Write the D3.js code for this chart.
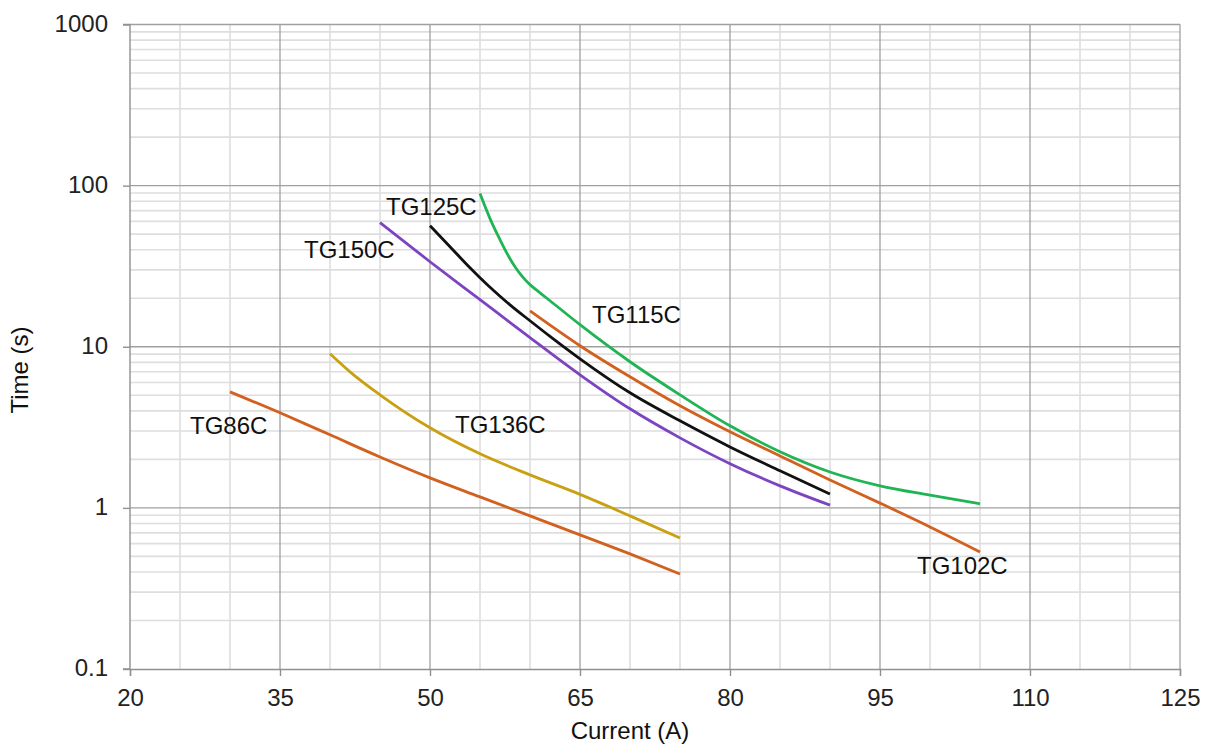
<!DOCTYPE html>
<html>
<head>
<meta charset="utf-8">
<script src="https://cdn.jsdelivr.net/npm/d3@7"></script>
<style>
  html, body { margin: 0; padding: 0; background: #fff; }
  svg { display: block; font-family: "Liberation Sans", Arial, sans-serif; }
</style>
</head>
<body>
<svg id="chart" width="1206" height="747"></svg>
<script>
// ---- data ----
const xTicks = [20, 35, 50, 65, 80, 95, 110, 125];
const yTicks = [0.1, 1, 10, 100, 1000];
const yTickLabels = ["0.1", "1", "10", "100", "1000"];

const tg86X  = [30, 35, 40, 45, 50, 55, 60, 65, 70, 75];
const tg86Y  = [5.25, 3.89, 2.84, 2.07, 1.536, 1.17, 0.892, 0.68, 0.518, 0.389];

const tg136X = [40, 42, 45, 50, 55, 60, 65, 70, 75];
const tg136Y = [9.05, 6.99, 5.03, 3.14, 2.165, 1.603, 1.213, 0.892, 0.651];

const tg150X = [45, 50, 55, 60, 65, 70, 75, 80, 85, 90];
const tg150Y = [58.9, 33.7, 19.6, 11.4, 6.70, 4.12, 2.72, 1.88, 1.37, 1.04];

const tg125X = [50, 52, 54, 55, 56, 57, 58, 60, 62, 65, 70, 75, 80, 85, 90];
const tg125Y = [56.4, 41.8, 30.9, 26.8, 23.4, 20.6, 18.2, 14.5, 11.6, 8.42, 5.18, 3.47, 2.39, 1.70, 1.22];

const tg102X = [60, 65, 70, 75, 80, 85, 90, 95, 100, 105];
const tg102Y = [16.7, 10.15, 6.51, 4.30, 2.965, 2.10, 1.49, 1.07, 0.762, 0.533];

const tg115X = [55, 56, 57, 58, 58.5, 59, 59.5, 60, 61, 62, 65, 70, 75, 80, 85, 90, 95, 100, 105];
const tg115Y = [89.2, 62.4, 46.2, 35.2, 31.4, 28.4, 26.1, 24.3, 21.6, 19.3, 13.7, 8.07, 5.03, 3.23, 2.23, 1.67, 1.37, 1.20, 1.06];

const seriesNames  = ["TG86C", "TG136C", "TG150C", "TG125C", "TG102C", "TG115C"];
const seriesColors = ["#d2601e", "#c9a012", "#7c44c0", "#111111", "#d2601e", "#21b455"];
const seriesXs = [tg86X, tg136X, tg150X, tg125X, tg102X, tg115X];
const seriesYs = [tg86Y, tg136Y, tg150Y, tg125Y, tg102Y, tg115Y];
// label anchor in data units (x, y)
const labelX = [26.0, 52.5, 37.4, 45.6, 98.7, 66.2];
const labelY = [2.88, 2.92, 35.7, 66.0, 0.389, 14.1];

// ---- layout ----
const svg = d3.select("#chart");
const pL = 130, pR = 1180, pT = 24.5, pB = 669;
const x = d3.scaleLinear().domain([20, 125]).range([pL, pR]);
const y = d3.scaleLog().domain([0.1, 1000]).range([pB, pT]);

const FONT = 24;

// minor grid
const g = svg.append("g");
const minorX = d3.range(25, 125, 5).filter(v => (v - 20) % 15 !== 0);
g.selectAll("line.mx").data(minorX).enter().append("line")
  .attr("x1", d => x(d)).attr("x2", d => x(d))
  .attr("y1", pT).attr("y2", pB)
  .attr("stroke", "#dedede").attr("stroke-width", 1.6);
const minorY = [];
[0.1, 1, 10, 100].forEach(dec => { for (let k = 2; k <= 9; k++) minorY.push(dec * k); });
g.selectAll("line.my").data(minorY).enter().append("line")
  .attr("x1", pL).attr("x2", pR)
  .attr("y1", d => y(d)).attr("y2", d => y(d))
  .attr("stroke", "#dedede").attr("stroke-width", 1.6);

// major grid
g.selectAll("line.MX").data(xTicks.slice(1)).enter().append("line")
  .attr("x1", d => x(d)).attr("x2", d => x(d))
  .attr("y1", pT).attr("y2", pB)
  .attr("stroke", "#a0a0a0").attr("stroke-width", 1.3);
g.selectAll("line.MY").data(yTicks.slice(1)).enter().append("line")
  .attr("x1", pL).attr("x2", pR)
  .attr("y1", d => y(d)).attr("y2", d => y(d))
  .attr("stroke", "#a0a0a0").attr("stroke-width", 1.3);

// axes
const xAxis = d3.axisBottom(x).tickValues(xTicks).tickSize(7).tickPadding(13);
const yAxis = d3.axisLeft(y).tickValues(yTicks).tickSize(7).tickPadding(15)
  .tickFormat((d, i) => yTickLabels[i]);
const gx = svg.append("g").attr("transform", `translate(0,${pB})`).call(xAxis);
const gy = svg.append("g").attr("transform", `translate(${pL},0)`).call(yAxis);
[gx, gy].forEach(a => {
  a.select(".domain").attr("stroke", "#909090").attr("stroke-width", 1.4);
  a.selectAll(".tick line").attr("stroke", "#909090").attr("stroke-width", 1.4);
  a.selectAll(".tick text").attr("fill", "#222").style("font-size", FONT + "px")
    .style("font-family", '"Liberation Sans", Arial, sans-serif');
});
gy.select(".domain").attr("d", `M-7,${pB}H0V${pT}H-7`);
gy.selectAll(".tick text").attr("dy", "0.28em");

// series
const line = d3.line().x(d => x(d[0])).y(d => y(d[1])).curve(d3.curveMonotoneX);
seriesNames.forEach((name, i) => {
  const pts = seriesXs[i].map((v, j) => [v, seriesYs[i][j]]);
  svg.append("path").datum(pts)
    .attr("d", line)
    .attr("fill", "none")
    .attr("stroke", seriesColors[i])
    .attr("stroke-width", 2.8)
    .attr("stroke-linecap", "butt");
});

// labels
seriesNames.forEach((name, i) => {
  svg.append("text")
    .attr("x", x(labelX[i])).attr("y", y(labelY[i]))
    .attr("fill", "#111").style("font-size", FONT + "px")
    .text(name);
});

// axis titles
svg.append("text").attr("x", 630).attr("y", 739)
  .attr("text-anchor", "middle").attr("fill", "#111").style("font-size", FONT + "px")
  .text("Current (A)");
svg.append("text").attr("transform", "translate(28,370) rotate(-90)")
  .attr("text-anchor", "middle").attr("fill", "#111").style("font-size", FONT + "px")
  .text("Time (s)");
</script>
</body>
</html>
